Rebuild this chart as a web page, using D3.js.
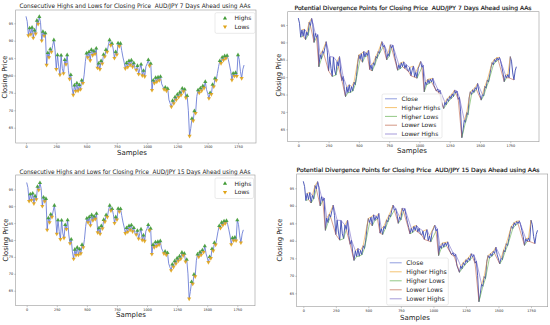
<!DOCTYPE html>
<html>
<head>
<meta charset="utf-8">
<script src="https://cdn.jsdelivr.net/npm/d3@7"></script>
<style>
body{margin:0;background:#fff}
svg{display:block}
text{font-family:"DejaVu Sans",sans-serif;fill:#222;white-space:pre}
</style>
</head>
<body>
<svg width="550" height="325"></svg>
<script>
// AUD/JPY daily close, every 10th sample
var sampleStep = 10;
var closePrice = [
97.0,95.5,91.5,93.6,91.8,93.8,90.8,93.0,92.0,95.8,
94.8,96.9,95.2,90.0,92.6,91.4,92.2,83.0,86.5,85.2,
87.6,86.8,88.6,90.2,87.2,81.8,85.9,82.5,80.2,85.8,
82.0,80.6,84.5,83.2,85.9,81.5,79.0,80.2,76.5,74.4,
77.2,75.5,77.8,75.6,77.3,76.0,78.6,77.8,80.2,84.0,
86.4,85.2,86.8,84.3,87.4,85.8,87.0,86.2,87.8,82.2,
83.5,81.8,84.2,83.4,86.0,85.4,87.4,86.8,88.8,90.2,
88.7,89.2,87.6,85.0,86.8,86.0,89.3,88.4,89.2,87.2,
85.3,83.8,82.0,83.6,82.4,84.2,83.0,84.4,82.5,83.6,
82.0,81.6,82.8,80.4,82.0,83.2,80.0,81.4,79.7,82.6,
83.4,84.5,82.8,83.4,75.8,78.6,77.8,79.4,78.2,79.5,
78.6,79.7,77.6,76.8,76.0,76.6,75.6,76.2,73.0,72.0,
71.0,72.8,72.0,73.8,73.0,74.6,73.8,75.2,74.4,76.3,
75.4,76.0,73.6,74.2,70.0,62.6,64.8,67.6,67.0,69.8,
69.2,74.0,75.8,75.0,76.4,75.6,77.0,76.4,78.2,76.0,
74.8,73.4,75.0,74.6,77.4,76.8,79.2,78.6,80.6,82.6,
84.2,83.5,85.2,84.4,85.6,84.9,85.7,84.6,83.0,81.2,
78.7,80.6,79.8,80.8,79.8,85.9,84.6,81.2,79.2,81.8,
83.0
];
var xTickValues = [0, 250, 500, 750, 1000, 1250, 1500, 1750];
var yTickValues = [65, 70, 75, 80, 85, 90, 95];
var titles = [
  "Consecutive Highs and Lows for Closing Price  AUD/JPY 7 Days Ahead using AAs",
  "Potential Divergence Points for Closing Price  AUD/JPY 7 Days Ahead using AAs",
  "Consecutive Highs and Lows for Closing Price  AUD/JPY 15 Days Ahead using AAs",
  "Potential Divergence Points for Closing Price  AUD/JPY 15 Days Ahead using AAs"
];
var extremaNames = ["Highs", "Lows"];
var divergenceNames = ["Close", "Higher Highs", "Higher Lows", "Lower Lows", "Lower Highs"];
var extremaOrder = [1, 1, 1, 1]; // neighbours each side, in sampled points

var colors = {
  close: "#5b6fd0", closeDark: "#3b48b0",
  highs: "#3f9a33", lows: "#e0a419",
  hh: "#f0a830", hl: "#5fae4c", ll: "#c0644a", lh: "#7a6cc8"
};
var divColors = [colors.close, colors.hh, colors.hl, colors.ll, colors.lh];

var layout = [
  {kind:"hl", frame:[15.7,10,256,143], xr:[26,238], yr:[23.3,127.7], tx:135, ty:8.4, tw:231,
   ylab:[5,77], xlab:[132,154.5], legend:{x:215,y:12.7,w:40,h:20.6,row:8.4,fs:6}},
  {kind:"div", frame:[287.7,11.7,539,141.7], xr:[298.3,510.3], yr:[25,129.3], tx:413, ty:9.6, tw:237,
   ylab:[278.5,75], xlab:[412,153], legend:{x:382,y:94,w:60,h:44,row:8.8,fs:6}},
  {kind:"hl", frame:[15.7,175,255,305.7], xr:[26.7,237.3], yr:[189.3,290.7], tx:135, ty:174, tw:231,
   ylab:[6,240], xlab:[131,316.7], legend:{x:215,y:178,w:38.5,h:20.5,row:8.6,fs:6}},
  {kind:"div", frame:[296.7,174,547.7,306.7], xr:[303.3,531], yr:[188.3,293.3], tx:418, ty:171.7, tw:243,
   ylab:[280,240], xlab:[415,319.7], legend:{x:386.7,y:258,w:61.6,h:47,row:9,fs:6.3}}
];

var points = closePrice.map(function(v,i){ return {s:i*sampleStep, v:v}; });

function findExtrema(order){
  var highs = [], lows = [];
  for (var i = order; i < points.length - order; i++){
    var win = closePrice.slice(i-order, i+order+1);
    var v = closePrice[i];
    if (v === d3.max(win) && win.filter(function(w){return w===v;}).length===1) highs.push(points[i]);
    if (v === d3.min(win) && win.filter(function(w){return w===v;}).length===1) lows.push(points[i]);
  }
  return {highs:highs, lows:lows};
}

var svg = d3.select("svg");

layout.forEach(function(L, p){
  var g = svg.append("g");
  var x = d3.scaleLinear().domain([0,1750]).range(L.xr);
  var y = d3.scaleLinear().domain([95,65]).range(L.yr);
  var f = L.frame;

  g.append("rect").attr("x",f[0]).attr("y",f[1]).attr("width",f[2]-f[0]).attr("height",f[3]-f[1])
    .attr("fill","#fff").attr("stroke","#9a9a9a").attr("stroke-width",0.6);

  var xa = g.append("g").attr("transform","translate(0,"+f[3]+")")
    .call(d3.axisBottom(x).tickValues(xTickValues).tickFormat(d3.format("d")).tickSize(1.5).tickPadding(1));
  var ya = g.append("g").attr("transform","translate("+f[0]+",0)")
    .call(d3.axisLeft(y).tickValues(yTickValues).tickFormat(d3.format("d")).tickSize(1.5).tickPadding(1));
  [xa, ya].forEach(function(a){
    a.select(".domain").remove();
    a.selectAll("line").attr("stroke","#777").attr("stroke-width",0.4);
    a.selectAll("text").attr("font-size",3.4).attr("fill","#555").style("font-family","DejaVu Sans");
  });

  g.append("text").attr("x",L.tx).attr("y",L.ty).attr("text-anchor","middle")
    .attr("font-size", L.kind==="div" ? 5.8 : 6.2).attr("textLength",L.tw).attr("lengthAdjust","spacingAndGlyphs")
    .style("fill", L.kind==="div" ? "#111" : "#222")
    .style("stroke", L.kind==="div" ? "#111" : "none").style("stroke-width",0.15)
    .text(titles[p]);
  g.append("text").attr("transform","translate("+L.ylab[0]+","+L.ylab[1]+") rotate(-90)")
    .attr("text-anchor","middle").attr("dy","0.35em").attr("font-size",7)
    .attr("textLength",43).attr("lengthAdjust","spacingAndGlyphs").text("Closing Price");
  g.append("text").attr("x",L.xlab[0]).attr("y",L.xlab[1]).attr("text-anchor","middle")
    .attr("font-size",7).text("Samples");

  var ext = findExtrema(extremaOrder[p]);
  var line = d3.line().x(function(d){return x(d.s);}).y(function(d){return y(d.v);});

  if (L.kind === "hl"){
    g.append("path").datum(points).attr("d",line).attr("fill","none")
      .attr("stroke",colors.close).attr("stroke-width",0.8);
    var up = d3.symbol().type(d3.symbolTriangle).size(7.5);
    g.selectAll(".hi").data(ext.highs).enter().append("path").attr("d",up)
      .attr("transform",function(d){return "translate("+x(d.s)+","+y(d.v)+")";})
      .attr("fill",colors.highs).attr("opacity",0.9);
    g.selectAll(".lo").data(ext.lows).enter().append("path").attr("d",up)
      .attr("transform",function(d){return "translate("+x(d.s)+","+y(d.v)+") rotate(180)";})
      .attr("fill",colors.lows).attr("opacity",0.9);

    var lg = L.legend;
    var leg = g.append("g");
    leg.append("rect").attr("x",lg.x).attr("y",lg.y).attr("width",lg.w).attr("height",lg.h)
      .attr("rx",1.5).attr("fill","#fff").attr("stroke","#d5d5d5").attr("stroke-width",0.5);
    extremaNames.forEach(function(name,i){
      var cy = lg.y + 5.6 + i*lg.row;
      leg.append("path").attr("d",up)
        .attr("transform","translate("+(lg.x+10)+","+cy+")"+(i?" rotate(180)":""))
        .attr("fill", i ? colors.lows : colors.highs);
      leg.append("text").attr("x",lg.x+19.5).attr("y",cy).attr("dy","0.35em")
        .attr("font-size",lg.fs).text(name);
    });
  } else {
    g.append("path").datum(points).attr("d",line).attr("fill","none")
      .attr("stroke",colors.closeDark).attr("stroke-width",0.9);
    function segs(arr, upColor, downColor){
      for (var i = 1; i < arr.length; i++){
        var a = arr[i-1], b = arr[i];
        g.append("line").attr("x1",x(a.s)).attr("y1",y(a.v)).attr("x2",x(b.s)).attr("y2",y(b.v))
          .attr("stroke", b.v > a.v ? upColor : downColor).attr("stroke-width",0.7).attr("opacity",0.85);
      }
    }
    segs(ext.highs, colors.hh, colors.lh);
    segs(ext.lows, colors.hl, colors.ll);

    var lg2 = L.legend;
    var leg2 = g.append("g");
    leg2.append("rect").attr("x",lg2.x).attr("y",lg2.y).attr("width",lg2.w).attr("height",lg2.h)
      .attr("rx",1.5).attr("fill","#fff").attr("fill-opacity",0.85).attr("stroke","#d5d5d5").attr("stroke-width",0.5);
    divergenceNames.forEach(function(name,i){
      var cy = lg2.y + 4.8 + i*lg2.row;
      leg2.append("line").attr("x1",lg2.x+3).attr("x2",lg2.x+15).attr("y1",cy).attr("y2",cy)
        .attr("stroke",divColors[i]).attr("stroke-width",0.9).attr("opacity",0.75);
      leg2.append("text").attr("x",lg2.x+19.5).attr("y",cy).attr("dy","0.35em")
        .attr("font-size",lg2.fs).text(name);
    });
  }
});
</script>
</body>
</html>
